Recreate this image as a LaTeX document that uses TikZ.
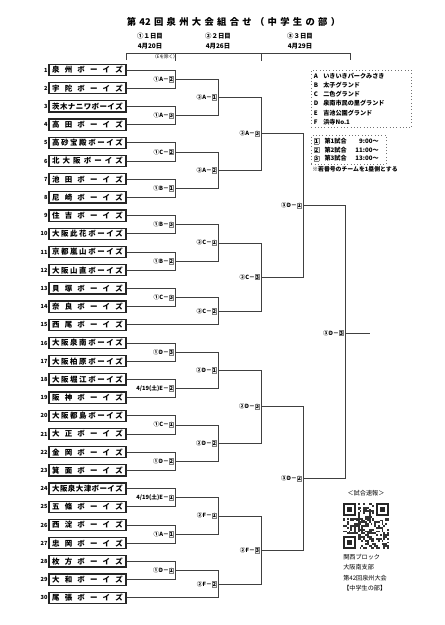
\documentclass[tikz,border=0pt]{standalone}
\usepackage{fontspec}
\setmainfont{Noto Sans CJK JP}
\usepackage{xcolor}
\usepackage{tikz}
\usetikzlibrary{positioning}

\newcommand{\fsz}[1]{\fontsize{#1}{#1}\selectfont}
\newcommand{\sq}[1]{{\setlength{\fboxsep}{0.25pt}\setlength{\fboxrule}{0.3pt}\fcolorbox{black!50}{black!5}{#1}}}
\newcommand{\gm}[3]{#1#2－\sq{#3}}
\newcommand{\spread}[2]{{\spaceskip=0pt plus 1fil\makebox[#1][s]{#2}}}

\begin{document}
\begin{tikzpicture}[x=0.75pt, y=-0.75pt,
    team/.style={draw=black!85, line width=0.9pt, rectangle, minimum width=57.75pt, minimum height=8.4pt, inner sep=0pt, font=\fsz{5.6}\bfseries},
    num/.style={inner sep=0.5pt, font=\fsz{4.2}\bfseries},
    game/.style={anchor=east, inner sep=0.7pt, font=\fsz{4.3}\bfseries},
    wire/.style={draw=black!75, line width=0.55pt},
    head/.style={inner sep=0pt, font=\fsz{4.8}\bfseries},
    legend/.style={draw=black!55, dotted, line width=0.45pt, anchor=north west, align=left, inner sep=2pt, font=\fontsize{4.6}{6.9}\selectfont\bfseries},
    note/.style={inner sep=0pt, anchor=west, font=\fsz{4.6}}]
    \useasboundingbox (0,0) rectangle (444,625);

    \node[font=\fsz{7}\bfseries, inner sep=0pt] (title) at (233.5,22) {\makebox[160pt][s]{第 42 回 泉 州 大 会 組 合 せ （ 中 学 生 の 部 ）}};
    \node[head] (day1) at (150,36) {①１日目};
    \node[head, below=3pt of day1] (date1) {4月20日};
    \node[head] (day2) at (218,36) {②２日目};
    \node[head, below=3pt of day2] (date2) {4月26日};
    \node[head] (day3) at (300,36) {③３日目};
    \node[head, below=3pt of day3] (date3) {4月29日};
    \node[head, font=\fsz{3.4}] (excl) at (165,57) {（Eを除く）};
    \draw[wire] (126,60) -- (126,53) -- (350,53) -- (350,60);
    \draw[wire] (175,53) -- (175,61);
    \draw[wire] (261,53) -- (261,61);

    \foreach \i/\nm in {1/泉 州 ボ ー イ ズ, 2/宇 陀 ボ ー イ ズ, 3/茨 木 ナ ニ ワ ボ ー イ ズ,
        4/高 田 ボ ー イ ズ, 5/高 砂 宝 殿 ボ ー イ ズ, 6/北 大 阪 ボ ー イ ズ,
        7/池 田 ボ ー イ ズ, 8/尼 崎 ボ ー イ ズ, 9/住 吉 ボ ー イ ズ,
        10/大 阪 此 花 ボ ー イ ズ, 11/京 都 嵐 山 ボ ー イ ズ, 12/大 阪 山 直 ボ ー イ ズ,
        13/貝 塚 ボ ー イ ズ, 14/奈 良 ボ ー イ ズ, 15/西 尾 ボ ー イ ズ,
        16/大 阪 泉 南 ボ ー イ ズ, 17/大 阪 柏 原 ボ ー イ ズ, 18/大 阪 堀 江 ボ ー イ ズ,
        19/阪 神 ボ ー イ ズ, 20/大 阪 都 島 ボ ー イ ズ, 21/大 正 ボ ー イ ズ,
        22/金 岡 ボ ー イ ズ, 23/箕 面 ボ ー イ ズ, 24/大 阪 泉 大 津 ボ ー イ ズ,
        25/五 條 ボ ー イ ズ, 26/西 淀 ボ ー イ ズ, 27/忠 岡 ボ ー イ ズ,
        28/枚 方 ボ ー イ ズ, 29/大 和 ボ ー イ ズ, 30/尾 張 ボ ー イ ズ}
    {
        \node[team] (t\i) at (87.5,{70+(\i-1)*18.2}) {\spread{53pt}{\nm}};
        \node[num, left=0pt of t\i] (n\i) {\i};
    }

    \node[game] (d1a2) at (175,79.1) {\gm{①}{A}{2}};
    \node[game] (d1a3) at (175,115.5) {\gm{①}{A}{3}};
    \node[game] (d1c2) at (175,151.9) {\gm{①}{C}{2}};
    \node[game] (d1b1) at (175,188.3) {\gm{①}{B}{1}};
    \node[game] (d1b3) at (175,224.7) {\gm{①}{B}{3}};
    \node[game] (d1b2) at (175,261.1) {\gm{①}{B}{2}};
    \node[game] (d1c3) at (175,297.5) {\gm{①}{C}{3}};
    \node[game] (d1d3) at (175,352.1) {\gm{①}{D}{3}};
    \node[game] (d0e2) at (175,388.5) {\gm{4/19(土)}{E}{2}};
    \node[game] (d1c1) at (175,424.9) {\gm{①}{C}{1}};
    \node[game] (d1d2) at (175,461.3) {\gm{①}{D}{2}};
    \node[game] (d0e1) at (175,497.7) {\gm{4/19(土)}{E}{1}};
    \node[game] (d1a1) at (175,534.1) {\gm{①}{A}{1}};
    \node[game] (d1d1) at (175,570.5) {\gm{①}{D}{1}};

    \node[game] (d2a1) at (218,97.3) {\gm{②}{A}{1}};
    \node[game] (d2a2) at (218,170.1) {\gm{②}{A}{2}};
    \node[game] (d2c1) at (218,242.9) {\gm{②}{C}{1}};
    \node[game] (d2c2) at (218,311.2) {\gm{②}{C}{2}};
    \node[game] (d2d1) at (218,370.3) {\gm{②}{D}{1}};
    \node[game] (d2d2) at (218,443.1) {\gm{②}{D}{2}};
    \node[game] (d2f1) at (218,515.9) {\gm{②}{F}{1}};
    \node[game] (d2f2) at (218,584.2) {\gm{②}{F}{2}};

    \node[game] (d2a3) at (261,133.7) {\gm{②}{A}{3}};
    \node[game] (d2c3) at (261,277.0) {\gm{②}{C}{3}};
    \node[game] (d2d3) at (261,406.7) {\gm{②}{D}{3}};
    \node[game] (d2f3) at (261,550.0) {\gm{②}{F}{3}};

    \node[game] (d3d1) at (303,205.4) {\gm{③}{D}{1}};
    \node[game] (d3d2) at (303,478.4) {\gm{③}{D}{2}};
    \node[game] (d3d3) at (345,333) {\gm{③}{D}{3}};
    \coordinate (win) at (370,333);

    \foreach \g/\a/\b in {d1a2/t1/t2, d1a3/t3/t4, d1c2/t5/t6, d1b1/t7/t8, d1b3/t9/t10,
        d1b2/t11/t12, d1c3/t13/t14, d1d3/t16/t17, d0e2/t18/t19, d1c1/t20/t21,
        d1d2/t22/t23, d0e1/t24/t25, d1a1/t26/t27, d1d1/t28/t29,
        d2a1/d1a2/d1a3, d2a2/d1c2/d1b1, d2c1/d1b3/d1b2, d2c2/d1c3/t15,
        d2d1/d1d3/d0e2, d2d2/d1c1/d1d2, d2f1/d0e1/d1a1, d2f2/d1d1/t30,
        d2a3/d2a1/d2a2, d2c3/d2c1/d2c2, d2d3/d2d1/d2d2, d2f3/d2f1/d2f2,
        d3d1/d2a3/d2c3, d3d2/d2d3/d2f3, d3d3/d3d1/d3d2}
        \draw[wire] (\a.east) -| (\g.east) (\b.east) -| (\g.east);
    \draw[wire] (d3d3.east) -- (win);

    \node[legend, text width=71pt] (venues) at (311,70) {%
        \makebox[7pt][l]{A}いきいきパークみさき\\
        \makebox[7pt][l]{B}太子グランド\\
        \makebox[7pt][l]{C}二色グランド\\
        \makebox[7pt][l]{D}泉南市民の里グランド\\
        \makebox[7pt][l]{E}吉池公園グランド\\
        \makebox[7pt][l]{F}浜寺No.1};
    \node[legend, text width=52pt, font=\fontsize{4.6}{6.6}\selectfont\bfseries] (times) at (311,135) {%
        \sq{1}\hspace{4pt}第1試合\makebox[24pt][r]{9:00～}\\
        \sq{2}\hspace{4pt}第2試合\makebox[24pt][r]{11:00～}\\
        \sq{3}\hspace{4pt}第3試合\makebox[24pt][r]{13:00～}};
    \node[note, font=\fsz{4.4}\bfseries] (rule) at (312,169) {※若番号のチームを1塁側とする};

    \node[note, anchor=center] (qrtitle) at (366,493) {＜試合速報＞};
    \begin{scope}[shift={(343,503)}]
        \pgfmathsetseed{17}
        \foreach \i in {0,...,24}
            \foreach \j in {0,...,24}{
                \pgfmathrandominteger{\bit}{0}{1}
                \ifnum\bit=1 \fill[black!80] ({\i*1.84},{\j*1.84}) rectangle ++(1.84,1.84);\fi
            }
        \foreach \fx/\fy in {0/0,17/0,0/17}
            \fill[white] ({\fx*1.84},{\fy*1.84}) rectangle ++(14.72,14.72);
        \foreach \fx/\fy in {0/0,18/0,0/18}{
            \fill[black!85] ({\fx*1.84},{\fy*1.84}) rectangle ++(12.88,12.88);
            \fill[white] ({(\fx+1)*1.84},{(\fy+1)*1.84}) rectangle ++(9.2,9.2);
            \fill[black!85] ({(\fx+2)*1.84},{(\fy+2)*1.84}) rectangle ++(5.52,5.52);
        }
    \end{scope}
    \node[note] (org1) at (343,557) {関西ブロック};
    \node[note] (org2) at (343,567.5) {大阪南支部};
    \node[note] (org3) at (343,578) {第42回泉州大会};
    \node[note] (org4) at (343,588.5) {【中学生の部】};
\end{tikzpicture}
\end{document}
